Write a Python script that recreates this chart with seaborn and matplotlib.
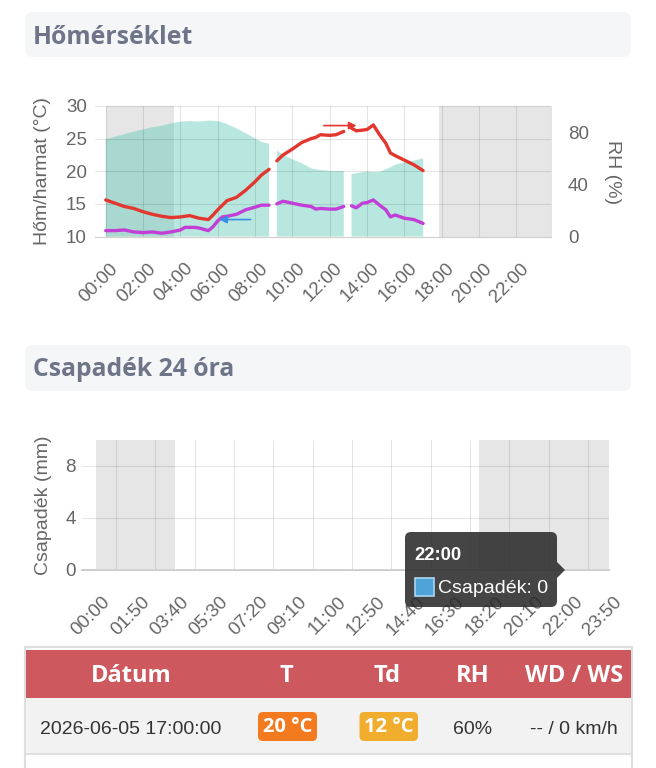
import numpy as np
import pandas as pd
import matplotlib
matplotlib.use("Agg")
import matplotlib.pyplot as plt
import matplotlib.transforms as mtransforms
import matplotlib.font_manager as fm
from matplotlib.patches import FancyBboxPatch, Rectangle, Polygon
import seaborn as sns

# ------------------------------------------------------------------ data
times = ["00:00", "00:30", "01:00", "01:30", "02:00", "02:30", "03:00", "03:30",
         "04:00", "04:15", "04:30", "04:45", "05:00", "05:30", "05:45", "06:00",
         "06:15", "06:30", "07:00", "07:30", "08:00", "08:20", "08:45", "09:00",
         "09:10", "09:30", "10:00", "10:30", "11:00", "11:15", "11:30", "12:00",
         "12:20", "12:45", "12:58", "13:10", "13:25", "13:45", "14:00", "14:20",
         "14:40", "15:00", "15:15", "15:30", "16:00", "16:30", "17:00"]
temp_c = [15.6, 15.1, 14.6, 14.3, 13.8, 13.4, 13.1, 12.9,
          13.0, 13.1, 13.2, 13.0, 12.8, 12.6, 13.3, 14.1,
          14.8, 15.5, 16.0, 17.1, 18.4, 19.4, 20.3, np.nan,
          21.6, 22.5, 23.4, 24.4, 25.0, 25.2, 25.6, 25.5,
          25.6, 26.1, np.nan, 26.6, 26.2, 26.3, 26.4, 27.1,
          25.6, 24.3, 22.8, 22.4, 21.7, 21.0, 20.1]
dew_c = [10.9, 10.9, 11.0, 10.7, 10.6, 10.7, 10.5, 10.7,
         11.0, 11.4, 11.4, 11.4, 11.3, 10.9, 11.5, 12.4,
         13.0, 13.1, 13.4, 14.1, 14.5, 14.8, 14.8, np.nan,
         15.0, 15.4, 15.1, 14.8, 14.6, 14.2, 14.3, 14.2,
         14.2, 14.6, np.nan, 14.7, 14.4, 15.1, 15.2, 15.6,
         14.8, 14.1, 13.0, 13.3, 12.8, 12.6, 12.0]
rh_pct = [74.5, 76.5, 78.5, 80.3, 82.1, 83.7, 84.9, 86.7,
          88.0, 88.3, 88.5, 88.2, 88.0, 88.8, 88.6, 88.5,
          87.5, 86.2, 82.9, 79.1, 75.2, 72.5, 71.0, np.nan,
          66.0, 62.5, 59.2, 56.1, 52.3, 51.5, 51.0, 50.2,
          50.2, 50.2, np.nan, 47.9, 48.4, 49.3, 49.7, 49.4,
          49.5, 51.5, 53.0, 55.0, 56.9, 58.1, 59.9]

# direction arrows drawn on the temperature chart
blue_arrow_times = ["07:46", "06:05"]
blue_arrow_value = 12.6
red_arrow_times = ["11:41", "13:26"]
red_arrow_value = 27.0

night_end = "03:40"
night_start = "17:50"

temp_ticks = [10, 15, 20, 25, 30]
rh_ticks = [0, 40, 80]
hour_ticks = ["00:00", "02:00", "04:00", "06:00", "08:00", "10:00",
              "12:00", "14:00", "16:00", "18:00", "20:00", "22:00"]

# precipitation, 10 minute categories (all readings are 0 mm)
precip_cats = [f"{h:02d}:{m:02d}" for h in range(24) for m in range(0, 60, 10)]
precip_mm = [0.0] * len(precip_cats)
precip_ticks = [0, 4, 8]
precip_label_step = 11

tooltip_time = "22:00"
tooltip_value = 0

table_header = ["Dátum", "T", "Td", "RH", "WD / WS"]
table_row = ["2026-06-05 17:00:00", "20 °C", "12 °C", "60%", "-- / 0 km/h"]

# ------------------------------------------------------------------ helpers
def to_h(s):
    hh, mm = s.split(":")
    return int(hh) + int(mm) / 60.0


def pick_bold(cands):
    for c in cands:
        for f in fm.fontManager.ttflist:
            if f.name != c:
                continue
            w = f.weight
            if isinstance(w, str):
                ok = w.lower() in ("bold", "semibold", "demibold", "heavy", "extra bold", "black")
            else:
                ok = int(w) >= 600
            if ok:
                return c
    return "DejaVu Sans"


W, H = 656, 768
sns.set_style("white")
plt.rcParams["font.family"] = ["Liberation Sans", "DejaVu Sans"]
HEAD_FONT = [pick_bold(["Open Sans", "Noto Sans", "Lato", "Roboto", "Inter"]), "DejaVu Sans"]

fig = plt.figure(figsize=(W / 100, H / 100), dpi=100)
T_px = mtransforms.Affine2D().scale(1 / W, -1 / H).translate(0, 1) + fig.transFigure


def rbox(x0, y0, x1, y1, r, fc, alpha=1.0, ec="none", lw=0, z=1):
    p = FancyBboxPatch((x0, y0), x1 - x0, y1 - y0,
                       boxstyle=f"round,pad=0,rounding_size={r}",
                       transform=T_px, facecolor=fc, edgecolor=ec, lw=lw,
                       alpha=alpha, zorder=z)
    fig.add_artist(p)
    return p


def rect(x0, y0, x1, y1, fc, ec="none", lw=0, z=1):
    p = Rectangle((x0, y0), x1 - x0, y1 - y0, transform=T_px,
                  facecolor=fc, edgecolor=ec, lw=lw, zorder=z)
    fig.add_artist(p)
    return p


GRID_A = 0.10
GRID_RGBA = (0, 0, 0, 0.10)
TICKC = "#666666"
NIGHT = "#e6e6e6"

# ------------------------------------------------------------------ section headers
rbox(25, 12, 631, 57, 8, "#f5f6f8")
fig.text(33, 43.5, "Hőmérséklet", transform=T_px, ha="left", va="baseline",
         fontsize=17.8, fontweight="bold", color="#6e7589", family=HEAD_FONT)
rbox(25, 345, 631, 391, 8, "#f5f6f8")
fig.text(33, 376, "Csapadék 24 óra", transform=T_px, ha="left", va="baseline",
         fontsize=17.8, fontweight="bold", color="#6e7589", family=HEAD_FONT)

# ------------------------------------------------------------------ temperature chart
df = pd.DataFrame({"h": [to_h(t) for t in times], "T": temp_c, "Td": dew_c, "RH": rh_pct})
df["seg"] = df["T"].isna().cumsum()

ax1 = fig.add_axes([95 / W, 1 - 236.5 / H, 455.7 / W, 130.5 / H])
ax2 = ax1.twinx()
ax1.set_zorder(ax2.get_zorder() + 1)
ax1.patch.set_visible(False)

xmin, xmax = -0.573, 23.833
ax2.axvspan(to_h("00:00"), to_h(night_end), color=NIGHT, lw=0, zorder=0)
ax2.axvspan(to_h(night_start), xmax, color=NIGHT, lw=0, zorder=0)
ax2.fill_between(df["h"], 0, df["RH"], color="#4cc3ad", alpha=0.40, lw=0, zorder=1)
ax2.set_ylim(0, 100)
ax2.set_yticks(rh_ticks)

clean = df.dropna()
sns.lineplot(data=clean, x="h", y="T", units="seg", estimator=None, ax=ax1,
             color="#e2372f", lw=2.4, sort=False)
sns.lineplot(data=clean, x="h", y="Td", units="seg", estimator=None, ax=ax1,
             color="#c23ed6", lw=2.4, sort=False)

ax1.annotate("", xy=(to_h(blue_arrow_times[1]), blue_arrow_value),
             xytext=(to_h(blue_arrow_times[0]), blue_arrow_value),
             arrowprops=dict(arrowstyle="-|>", color="#3a8ee6", lw=1.2,
                             mutation_scale=11, shrinkA=0, shrinkB=0))
ax1.annotate("", xy=(to_h(red_arrow_times[1]), red_arrow_value),
             xytext=(to_h(red_arrow_times[0]), red_arrow_value),
             arrowprops=dict(arrowstyle="-|>", color="#e2372f", lw=1.2,
                             mutation_scale=11, shrinkA=0, shrinkB=0))

ax1.set_xlim(xmin, xmax)
ax1.set_ylim(10, 30)
ax1.set_yticks(temp_ticks)
ax1.set_xticks([to_h(t) for t in hour_ticks])
ax1.set_xticklabels(hour_ticks, rotation=45, ha="right", va="center",
                    rotation_mode="anchor")
ax1.grid(True, color="black", alpha=GRID_A, lw=0.8)
ax1.set_xlabel("")
ax1.set_ylabel("")
ax2.set_ylabel("")
ax2.grid(False)
for a in (ax1, ax2):
    for s in a.spines.values():
        s.set_visible(False)
ax1.spines["bottom"].set_visible(True)
ax1.spines["bottom"].set_color("#cfcfcf")
ax1.spines["right"].set_visible(True)
ax1.spines["right"].set_color(GRID_RGBA)
ax1.tick_params(axis="y", length=0, pad=5.8, labelsize=13.5, labelcolor=TICKC)
ax1.tick_params(axis="x", length=0, pad=21.2, labelsize=13.5, labelcolor=TICKC)
ax2.tick_params(axis="y", length=0, pad=12.5, labelsize=13.5, labelcolor=TICKC)
off_top = mtransforms.ScaledTranslation(0.10, 0, fig.dpi_scale_trans)
for lbl in ax1.get_xticklabels():
    lbl.set_transform(lbl.get_transform() + off_top)

fig.text(43, 171, "Hőm/harmat (°C)", transform=T_px, rotation=90,
         ha="center", va="center", fontsize=14, color=TICKC)
fig.text(612, 172, "RH (%)", transform=T_px, rotation=270,
         ha="center", va="center", fontsize=14, color=TICKC)

# ------------------------------------------------------------------ precipitation chart
ax3 = fig.add_axes([82 / W, 1 - 570 / H, 527.3 / W, 130 / H])
pdf = pd.DataFrame({"t": precip_cats, "mm": precip_mm})
sns.barplot(data=pdf, x="t", y="mm", order=precip_cats, color="#4ea4d9",
            errorbar=None, ax=ax3, zorder=3)
pxmin, pxmax = -4.0, 143.4
ax3.axvspan(precip_cats.index("00:00"), precip_cats.index(night_end),
            color=NIGHT, lw=0, zorder=0)
ax3.axvspan(precip_cats.index(night_start), pxmax, color=NIGHT, lw=0, zorder=0)
ax3.set_xlim(pxmin, pxmax)
ax3.set_ylim(0, 10)
ax3.set_yticks(precip_ticks)
lab_idx = list(range(0, len(precip_cats), precip_label_step))
ax3.set_xticks(lab_idx)
ax3.set_xticklabels([precip_cats[i] for i in lab_idx], rotation=45, ha="right",
                    va="center", rotation_mode="anchor")
ax3.set_xticks([i + precip_label_step / 2 for i in lab_idx[:-1]], minor=True)
ax3.grid(False)
ax3.grid(True, axis="y", which="major", color="black", alpha=GRID_A, lw=0.8)
ax3.grid(True, axis="x", which="minor", color="black", alpha=GRID_A, lw=0.8)
ax3.set_axisbelow(True)
ax3.set_xlabel("")
ax3.set_ylabel("")
for s in ax3.spines.values():
    s.set_visible(False)
ax3.spines["bottom"].set_visible(True)
ax3.spines["bottom"].set_color("#cccccc")
ax3.spines["bottom"].set_linewidth(1.4)
ax3.tick_params(axis="y", length=0, pad=4.3, labelsize=13.5, labelcolor=TICKC)
ax3.tick_params(axis="x", which="major", length=0, pad=21.2, labelsize=13.5,
                labelcolor=TICKC)
ax3.tick_params(axis="x", which="minor", length=9, width=0.8, color=GRID_RGBA,
                direction="out")
off_bot = mtransforms.ScaledTranslation(0.115, 0, fig.dpi_scale_trans)
for lbl in ax3.get_xticklabels():
    lbl.set_transform(lbl.get_transform() + off_bot)

fig.text(43, 505, "Csapadék (mm)", transform=T_px, rotation=90,
         ha="center", va="center", fontsize=14, color=TICKC)

# tooltip
rbox(405, 532, 557, 607, 6, "#2b2b2b", alpha=0.88, z=10)
tri = Polygon([(557, 562), (565, 570), (557, 578)], closed=True, transform=T_px,
              facecolor="#2b2b2b", alpha=0.88, edgecolor="none", zorder=10)
fig.add_artist(tri)
fig.text(414.5, 559.5, tooltip_time, transform=T_px, ha="left", va="baseline",
         fontsize=13.3, fontweight="bold", color="white", zorder=11)
rect(415, 577.5, 433.5, 595.5, "#4ea4d9", ec="#a9d6f2", lw=1.2, z=11)
fig.text(437.5, 593, f"Csapadék: {tooltip_value}", transform=T_px, ha="left",
         va="baseline", fontsize=14, color="white", zorder=11)

# ------------------------------------------------------------------ table
rect(25, 646.5, 631.5, 769, "white", ec="#dedede", lw=1.5, z=1)
rect(26, 649.5, 631, 697.5, "#cd585e", z=2)
rect(26, 697.5, 631, 753, "#f2f2f2", z=2)
rect(26, 753, 631, 755, "#e0e0e0", z=2)
col_x = [131, 286, 387, 472.5, 574]
for x, s in zip(col_x, table_header):
    fig.text(x, 681.5, s, transform=T_px, ha="center", va="baseline",
             fontsize=17, fontweight="bold", color="white", family=HEAD_FONT,
             zorder=5)
badge_col = {1: ("#f47a20", 258, 317), 2: ("#f0ad2e", 359.5, 418)}
for i, (x, s) in enumerate(zip(col_x, table_row)):
    if i in badge_col:
        c, bx0, bx1 = badge_col[i]
        rbox(bx0, 712, bx1, 741, 5, c, z=4)
        fig.text((bx0 + bx1) / 2, 732.5, s, transform=T_px, ha="center",
                 va="baseline", fontsize=14.5, fontweight="bold", color="white",
                 family=HEAD_FONT, zorder=5)
    else:
        fig.text(x, 733.5, s, transform=T_px, ha="center", va="baseline",
                 fontsize=14, color="#333333", zorder=5)

fig.savefig("out.png", dpi=100)
